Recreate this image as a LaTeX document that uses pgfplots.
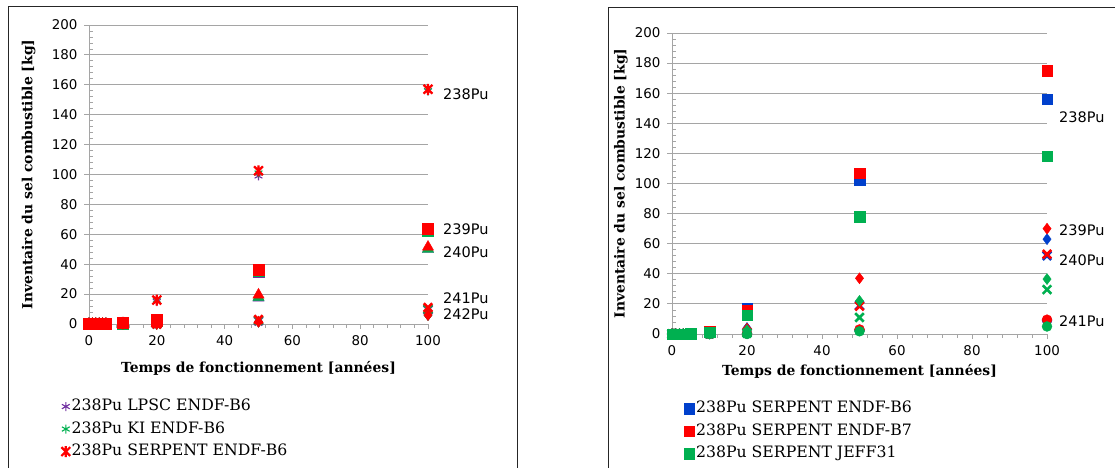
\documentclass[border=0pt]{standalone}
\usepackage{fontspec}
\setmainfont{DejaVu Serif}
\newfontfamily\dvs{DejaVu Sans}
\usepackage{pgfplots}
\pgfplotsset{compat=1.18}
\definecolor{cpur}{RGB}{112,48,160}
\definecolor{cgrn}{RGB}{0,176,80}
\definecolor{cred}{RGB}{255,0,0}
\definecolor{cblu}{RGB}{0,64,204}
\definecolor{gridc}{RGB}{165,165,165}
\pgfdeclareplotmark{xstar}{%
  \pgfpathmoveto{\pgfpoint{0pt}{\pgfplotmarksize}}%
  \pgfpathlineto{\pgfpoint{0pt}{-\pgfplotmarksize}}%
  \pgfpathmoveto{\pgfpoint{-0.8\pgfplotmarksize}{-0.8\pgfplotmarksize}}%
  \pgfpathlineto{\pgfpoint{0.8\pgfplotmarksize}{0.8\pgfplotmarksize}}%
  \pgfpathmoveto{\pgfpoint{-0.8\pgfplotmarksize}{0.8\pgfplotmarksize}}%
  \pgfpathlineto{\pgfpoint{0.8\pgfplotmarksize}{-0.8\pgfplotmarksize}}%
  \pgfusepathqstroke}
\pgfplotsset{
 mystyle/.style={
  scale only axis, enlargelimits=false, clip=false,
  xmin=0,xmax=100,ymin=0,ymax=200,
  axis x line*=bottom, axis y line*=left,
  axis line style={draw=gridc, line width=0.8bp, -},
  xtick={0,20,...,100}, ytick={0,20,...,200},
  minor x tick num=4, minor y tick num=4,
  tick align=outside,
  major tick length=5bp, minor tick length=4bp,
  tick style={draw=gridc, line width=0.8bp},
  minor y tick style={xshift=4bp},
  ymajorgrids, grid style={draw=gridc, line width=0.8bp},
  /pgf/number format/assume math mode=true,
  tick label style={font=\dvs\fontsize{13.4bp}{15bp}\selectfont},
  yticklabel style={xshift=-3bp},
  xticklabel style={yshift=-3bp},
  label style={font=\bfseries\fontsize{13.9bp}{16bp}\selectfont},
  xlabel={Temps de fonctionnement [années]},
  ylabel={Inventaire du sel combustible [kg]},
  legend cell align=left,
  legend style={draw=none, fill=none, inner sep=0pt, font=\fontsize{15.7bp}{17bp}\selectfont,
    row sep=5.5bp, nodes={inner sep=1.5bp, text height=11bp, text depth=3bp}, anchor=north west},
  only marks,
 },
}
\tikzset{lab/.style={anchor=west, inner sep=0pt, font=\dvs\fontsize{14.5bp}{16bp}\selectfont}}
\begin{document}
\begin{tikzpicture}[x=1bp,y=1bp]
\useasboundingbox (0,0) rectangle (1115,468);
\draw[black!85, line width=1bp] (8,-5) -- (8,461) -- (517,461) -- (517,-5);
\draw[black!85, line width=1bp] (608,-5) -- (608,460) -- (1125,460);

% ---------------- left chart ----------------
\begin{axis}[mystyle, at={(89bp,144bp)}, anchor=south west, width=339bp, height=299bp,
  ylabel style={at={(axis description cs:-0.178,0.5)}, anchor=center},
  xlabel style={at={(axis description cs:0.5,-0.147)}, anchor=center},
  legend style={at={(-0.082,-0.247)}}]
% LPSC
\addplot[cpur, mark=asterisk, mark size=4.5bp, line width=1.1bp] coordinates {(0,0)(1,0)(2,0)(3,0)(4,0)(5,0.1)(10,1)(20,15)(50,99)(100,156)};
\addlegendentry{238Pu LPSC ENDF-B6}
\addplot[cpur, forget plot, mark=square*, mark size=5.5bp] coordinates {(0,0)(1,0)(2,0)(3,0)(4,0)(5,0)(10,0.5)(20,2.5)(50,35)(100,62.5)};
\addplot[cpur, forget plot, mark=triangle*, mark size=6.5bp] coordinates {(0,0)(1,0)(2,0)(3,0)(4,0)(5,0)(10,0)(20,0.3)(50,17.5)(100,50)};
\addplot[cpur, forget plot, mark=x, mark size=6bp, line width=2.6bp] coordinates {(0,0)(1,0)(2,0)(3,0)(4,0)(5,0)(10,0)(20,0)(50,2)(100,9.5)};
\addplot[cpur, forget plot, mark=diamond*, mark size=5.5bp] coordinates {(0,0)(1,0)(2,0)(3,0)(4,0)(5,0)(10,0)(20,0)(50,1.5)(100,6)};
% KI
\addplot[cgrn, mark=asterisk, mark size=4.5bp, line width=1.1bp] coordinates {(0,0)(1,0)(2,0)(3,0)(4,0)(5,0.1)(10,1)(20,16)(50,101)(100,156)};
\addlegendentry{238Pu KI ENDF-B6}
\addplot[cgrn, forget plot, mark=square*, mark size=5.5bp] coordinates {(0,0)(1,0)(2,0)(3,0)(4,0)(5,0)(10,0.5)(20,2.5)(50,35.5)(100,62.5)};
\addplot[cgrn, forget plot, mark=triangle*, mark size=6.5bp] coordinates {(0,0)(1,0)(2,0)(3,0)(4,0)(5,0)(10,0)(20,0.3)(50,18)(100,50)};
\addplot[cgrn, forget plot, mark=x, mark size=6bp, line width=2.6bp] coordinates {(0,0)(1,0)(2,0)(3,0)(4,0)(5,0)(10,0)(20,0)(50,2.5)(100,10)};
\addplot[cgrn, forget plot, mark=diamond*, mark size=5.5bp] coordinates {(0,0)(1,0)(2,0)(3,0)(4,0)(5,0)(10,0)(20,0)(50,1.5)(100,6)};
% SERPENT
\addplot[cred, mark=xstar, mark size=5.5bp, line width=2.2bp] coordinates {(0,0)(1,0)(2,0)(3,0)(4,0)(5,0.1)(10,1)(20,16)(50,102.5)(100,157)};
\addlegendentry{238Pu SERPENT ENDF-B6}
\addplot[cred, forget plot, mark=square*, mark size=5.5bp] coordinates {(0,0)(1,0)(2,0)(3,0)(4,0)(5,0)(10,0.6)(20,3)(50,36.5)(100,63.5)};
\addplot[cred, forget plot, mark=triangle*, mark size=6.5bp] coordinates {(0,0)(1,0)(2,0)(3,0)(4,0)(5,0)(10,0)(20,0.3)(50,19.5)(100,51.5)};
\addplot[cred, forget plot, mark=x, mark size=6bp, line width=2.6bp] coordinates {(0,0)(1,0)(2,0)(3,0)(4,0)(5,0)(10,0)(20,0)(50,3)(100,11)};
\addplot[cred, forget plot, mark=diamond*, mark size=5.5bp] coordinates {(0,0)(1,0)(2,0)(3,0)(4,0)(5,0)(10,0)(20,0)(50,1.5)(100,6)};
\node[lab, xshift=15bp] at (axis cs:100,154) {238Pu};
\node[lab, xshift=15bp] at (axis cs:100,63.5) {239Pu};
\node[lab, xshift=15bp] at (axis cs:100,48) {240Pu};
\node[lab, xshift=15bp] at (axis cs:100,17.3) {241Pu};
\node[lab, xshift=15bp] at (axis cs:100,6.6) {242Pu};
\end{axis}

% ---------------- right chart ----------------
\begin{axis}[mystyle, at={(672bp,134bp)}, anchor=south west, width=375bp, height=301bp,
  ylabel style={at={(axis description cs:-0.136,0.5)}, anchor=center},
  xlabel style={at={(axis description cs:0.5,-0.123)}, anchor=center},
  legend style={at={(0.032,-0.219)}}]
% ENDF-B6 blue
\addplot[cblu, mark=square*, mark size=5.2bp] coordinates {(0,0)(1,0)(2,0)(3,0)(5,0.3)(10,1.5)(20,17)(50,102)(100,156)};
\addlegendentry{238Pu SERPENT ENDF-B6}
\addplot[cblu, forget plot, mark=diamond*, mark size=5.5bp] coordinates {(0,0)(1,0)(2,0)(3,0)(5,0)(10,0.5)(20,4)(50,21)(100,63)};
\addplot[cblu, forget plot, mark=x, mark size=6bp, line width=2.6bp] coordinates {(0,0)(1,0)(2,0)(3,0)(5,0)(10,0.2)(20,1)(50,19)(100,52)};
\addplot[cblu, forget plot, mark=*, mark size=5bp] coordinates {(0,0)(1,0)(2,0)(3,0)(5,0)(10,0)(20,0.2)(50,2.5)(100,9)};
% ENDF-B7 red
\addplot[cred, mark=square*, mark size=5.2bp] coordinates {(0,0)(1,0)(2,0)(3,0)(5,0.3)(10,1.5)(20,15.5)(50,107)(100,175)};
\addlegendentry{238Pu SERPENT ENDF-B7}
\addplot[cred, forget plot, mark=diamond*, mark size=5.5bp] coordinates {(0,0)(1,0)(2,0)(3,0)(5,0)(10,0.5)(20,3.5)(50,37)(100,70)};
\addplot[cred, forget plot, mark=x, mark size=6bp, line width=2.6bp] coordinates {(0,0)(1,0)(2,0)(3,0)(5,0)(10,0.3)(20,1)(50,18.5)(100,53)};
\addplot[cred, forget plot, mark=*, mark size=5bp] coordinates {(0,0)(1,0)(2,0)(3,0)(5,0)(10,0)(20,0.3)(50,3)(100,9.5)};
% JEFF31 green
\addplot[cgrn, mark=square*, mark size=5.2bp] coordinates {(0,0)(1,0)(2,0)(3,0)(5,0.2)(10,1.2)(20,12.5)(50,78)(100,118)};
\addlegendentry{238Pu SERPENT JEFF31}
\addplot[cgrn, forget plot, mark=diamond*, mark size=5.5bp] coordinates {(0,0)(1,0)(2,0)(3,0)(5,0)(10,0.3)(20,2.5)(50,22)(100,36.5)};
\addplot[cgrn, forget plot, mark=x, mark size=6bp, line width=2.6bp] coordinates {(0,0)(1,0)(2,0)(3,0)(5,0)(10,0.2)(20,0.5)(50,11)(100,29.5)};
\addplot[cgrn, forget plot, mark=*, mark size=5bp] coordinates {(0,0)(1,0)(2,0)(3,0)(5,0)(10,0)(20,0)(50,1.8)(100,5)};
\node[lab, xshift=12bp] at (axis cs:100,144) {238Pu};
\node[lab, xshift=12bp] at (axis cs:100,69) {239Pu};
\node[lab, xshift=12bp] at (axis cs:100,49) {240Pu};
\node[lab, xshift=12bp] at (axis cs:100,8.5) {241Pu};
\end{axis}
\end{tikzpicture}
\end{document}
